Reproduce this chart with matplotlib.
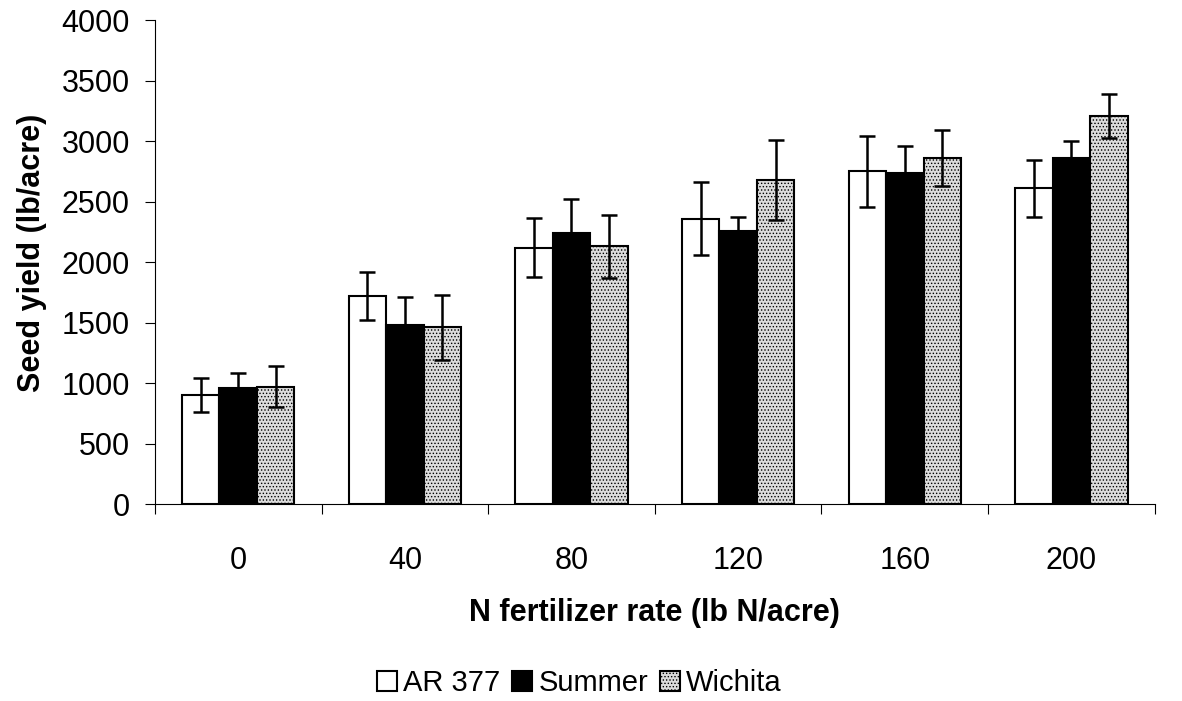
import numpy as np
import matplotlib.pyplot as plt

plt.rcParams['font.family'] = ['Liberation Sans', 'DejaVu Sans']
plt.rcParams['hatch.color'] = '#555555'
plt.rcParams['hatch.linewidth'] = 0.6

rates = ['0', '40', '80', '120', '160', '200']
cultivars = ['AR 377', 'Summer', 'Wichita']

ar377 = [900, 1720, 2120, 2360, 2750, 2610]
ar377_err = [140, 200, 245, 300, 290, 235]
summer = [960, 1480, 2240, 2260, 2740, 2860]
summer_err = [120, 230, 280, 110, 220, 140]
wichita = [970, 1460, 2130, 2680, 2860, 3210]
wichita_err = [170, 270, 260, 330, 230, 180]

fig = plt.figure(figsize=(11.82, 7.01), dpi=100)
ax = fig.add_axes([0.131, 0.281, 0.846, 0.690])

x = np.arange(len(rates))
w = 0.225
styles = [dict(facecolor='white', hatch=None),
          dict(facecolor='black', hatch=None),
          dict(facecolor='#dcdcdc', hatch='.....')]
series = [(ar377, ar377_err), (summer, summer_err), (wichita, wichita_err)]

for i, ((vals, err), st, name) in enumerate(zip(series, styles, cultivars)):
    ax.bar(x + (i - 1) * w, vals, w, facecolor=st['facecolor'], hatch=st['hatch'],
           edgecolor='black', linewidth=1.5, label=name,
           yerr=err, error_kw=dict(ecolor='black', elinewidth=1.8, capsize=6, capthick=1.8))

ax.set_xlim(-0.5, len(rates) - 0.5)
ax.set_ylim(0, 4000)
ax.set_yticks(np.arange(0, 4001, 500))
ax.set_xticks(x)
ax.set_xticklabels(rates)
ax.set_xticks(np.arange(-0.5, len(rates), 1), minor=True)
ax.tick_params(axis='x', which='major', length=0, pad=30, labelsize=22)
ax.tick_params(axis='x', which='minor', length=7, direction='out', width=0.8)
ax.tick_params(axis='y', length=7, direction='out', width=0.8, labelsize=22, pad=11)

for s in ['top', 'right']:
    ax.spines[s].set_visible(False)
for s in ['left', 'bottom']:
    ax.spines[s].set_linewidth(0.8)

ax.set_ylabel('Seed yield (lb/acre)', fontsize=22, fontweight='bold')
ax.yaxis.set_label_coords(-0.108, 0.52)
ax.set_xlabel('N fertilizer rate (lb N/acre)', fontsize=22, fontweight='bold', labelpad=16)

fig.legend(loc='center', bbox_to_anchor=(0.49, 0.025), ncol=3, frameon=False,
           fontsize=21, handlelength=0.7, handleheight=0.7, handletextpad=0.2,
           columnspacing=0.4)

fig.savefig('out.png', dpi=100)
